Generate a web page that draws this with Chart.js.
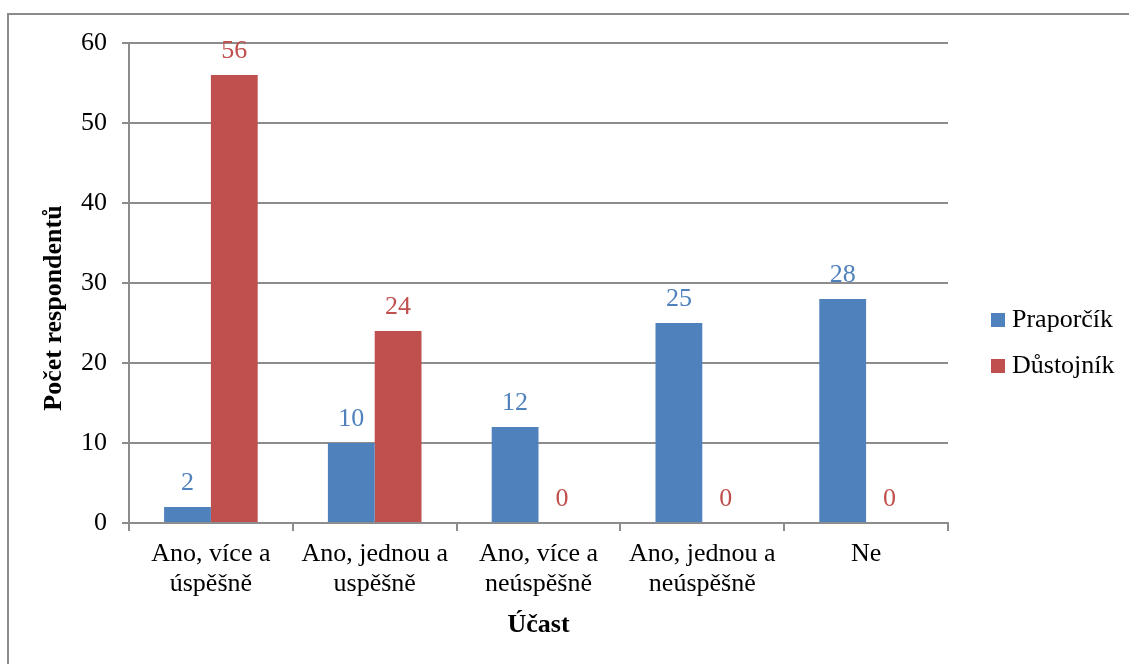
<!DOCTYPE html>
<html lang="cs">
<head>
<meta charset="utf-8">
<title>Účast – Počet respondentů</title>
<script src="https://cdn.jsdelivr.net/npm/chart.js@4.4.1/dist/chart.umd.min.js"></script>
<style>
  html, body { margin: 0; padding: 0; background: #ffffff; }
  #wrap { position: relative; width: 1129px; height: 664px; overflow: hidden; }
  #frame {
    position: absolute; left: 7px; top: 13px; width: 1200px; height: 700px;
    border-top: 2px solid #8c8c8c; border-left: 2px solid #8c8c8c;
    box-sizing: border-box; pointer-events: none;
  }
  canvas { position: absolute; left: 0; top: 0; }
</style>
</head>
<body>
<div id="wrap">
  <div id="frame"></div>
  <canvas id="chart" width="1129" height="664"></canvas>
</div>
<script>
// Kategorie účasti (víceřádkové popisky osy X)
const categories = [
  ['Ano, více a', 'úspěšně'],
  ['Ano, jednou a', 'uspěšně'],
  ['Ano, více a', 'neúspěšně'],
  ['Ano, jednou a', 'neúspěšně'],
  'Ne'
];

// Počty respondentů podle hodnosti
const praporcik = [2, 10, 12, 25, 28];
const dustojnik = [56, 24, 0, 0, 0];

// Osa Y
const yMin = 0;
const yMax = 60;
const yStep = 10;

const axisTitleX = 'Účast';
const axisTitleY = 'Počet respondentů';

const FONT = '"Liberation Serif", "Times New Roman", serif';
const GRID = '#8c8c8c';
const BLUE = '#4F81BD';
const RED = '#C0504D';

// Hodnoty nad sloupci, legenda a popisky os
const annotate = {
  id: 'annotate',
  afterDatasetsDraw(chart) {
    const ctx = chart.ctx;
    ctx.save();
    ctx.font = '26px ' + FONT;
    ctx.textAlign = 'center';
    ctx.textBaseline = 'alphabetic';
    chart.data.datasets.forEach((ds, i) => {
      const meta = chart.getDatasetMeta(i);
      meta.data.forEach((bar, j) => {
        ctx.fillStyle = ds.backgroundColor;
        ctx.fillText(String(ds.data[j]), bar.x, bar.y - 17);
      });
    });
    ctx.restore();
  },
  afterDraw(chart) {
    const ctx = chart.ctx;
    const area = chart.chartArea;
    ctx.save();
    // legenda
    ctx.font = '26px ' + FONT;
    ctx.textAlign = 'left';
    ctx.textBaseline = 'alphabetic';
    chart.data.datasets.forEach((ds, i) => {
      const base = 327 + i * 46;
      ctx.fillStyle = ds.backgroundColor;
      ctx.fillRect(991, base - 14, 14, 14);
      ctx.fillStyle = '#000000';
      ctx.fillText(ds.label, 1012, base);
    });
    // název osy X
    ctx.font = 'bold 26px ' + FONT;
    ctx.textAlign = 'center';
    ctx.fillText(axisTitleX, (area.left + area.right) / 2, 632);
    // název osy Y
    ctx.translate(61, 308);
    ctx.rotate(-Math.PI / 2);
    ctx.fillText(axisTitleY, 0, 0);
    ctx.restore();
  }
};

new Chart(document.getElementById('chart'), {
  type: 'bar',
  data: {
    labels: categories,
    datasets: [
      { label: 'Praporčík', data: praporcik, backgroundColor: BLUE },
      { label: 'Důstojník', data: dustojnik, backgroundColor: RED }
    ]
  },
  options: {
    responsive: false,
    animation: false,
    devicePixelRatio: 1,
    layout: { padding: { top: 43, right: 181, left: 0, bottom: 0 } },
    categoryPercentage: 2 / 3.5,
    barPercentage: 1.0,
    plugins: {
      legend: { display: false },
      tooltip: { enabled: false }
    },
    scales: {
      x: {
        offset: true,
        grid: {
          offset: true,
          drawOnChartArea: false,
          drawTicks: true,
          tickLength: 8,
          color: GRID,
          lineWidth: 2
        },
        border: { display: true, color: GRID, width: 2 },
        ticks: {
          color: '#000000',
          font: { family: FONT, size: 26, lineHeight: '30px' },
          padding: 8,
          maxRotation: 0,
          autoSkip: false
        },
        afterFit(scale) { scale.height = 141; }
      },
      y: {
        min: yMin,
        max: yMax,
        ticks: {
          stepSize: yStep,
          color: '#000000',
          font: { family: FONT, size: 26 },
          padding: 15
        },
        grid: {
          color: GRID,
          lineWidth: 2,
          tickLength: 7,
          drawTicks: true
        },
        border: { display: true, color: GRID, width: 2 },
        afterFit(scale) { scale.width = 129; }
      }
    }
  },
  plugins: [annotate]
});
</script>
</body>
</html>
